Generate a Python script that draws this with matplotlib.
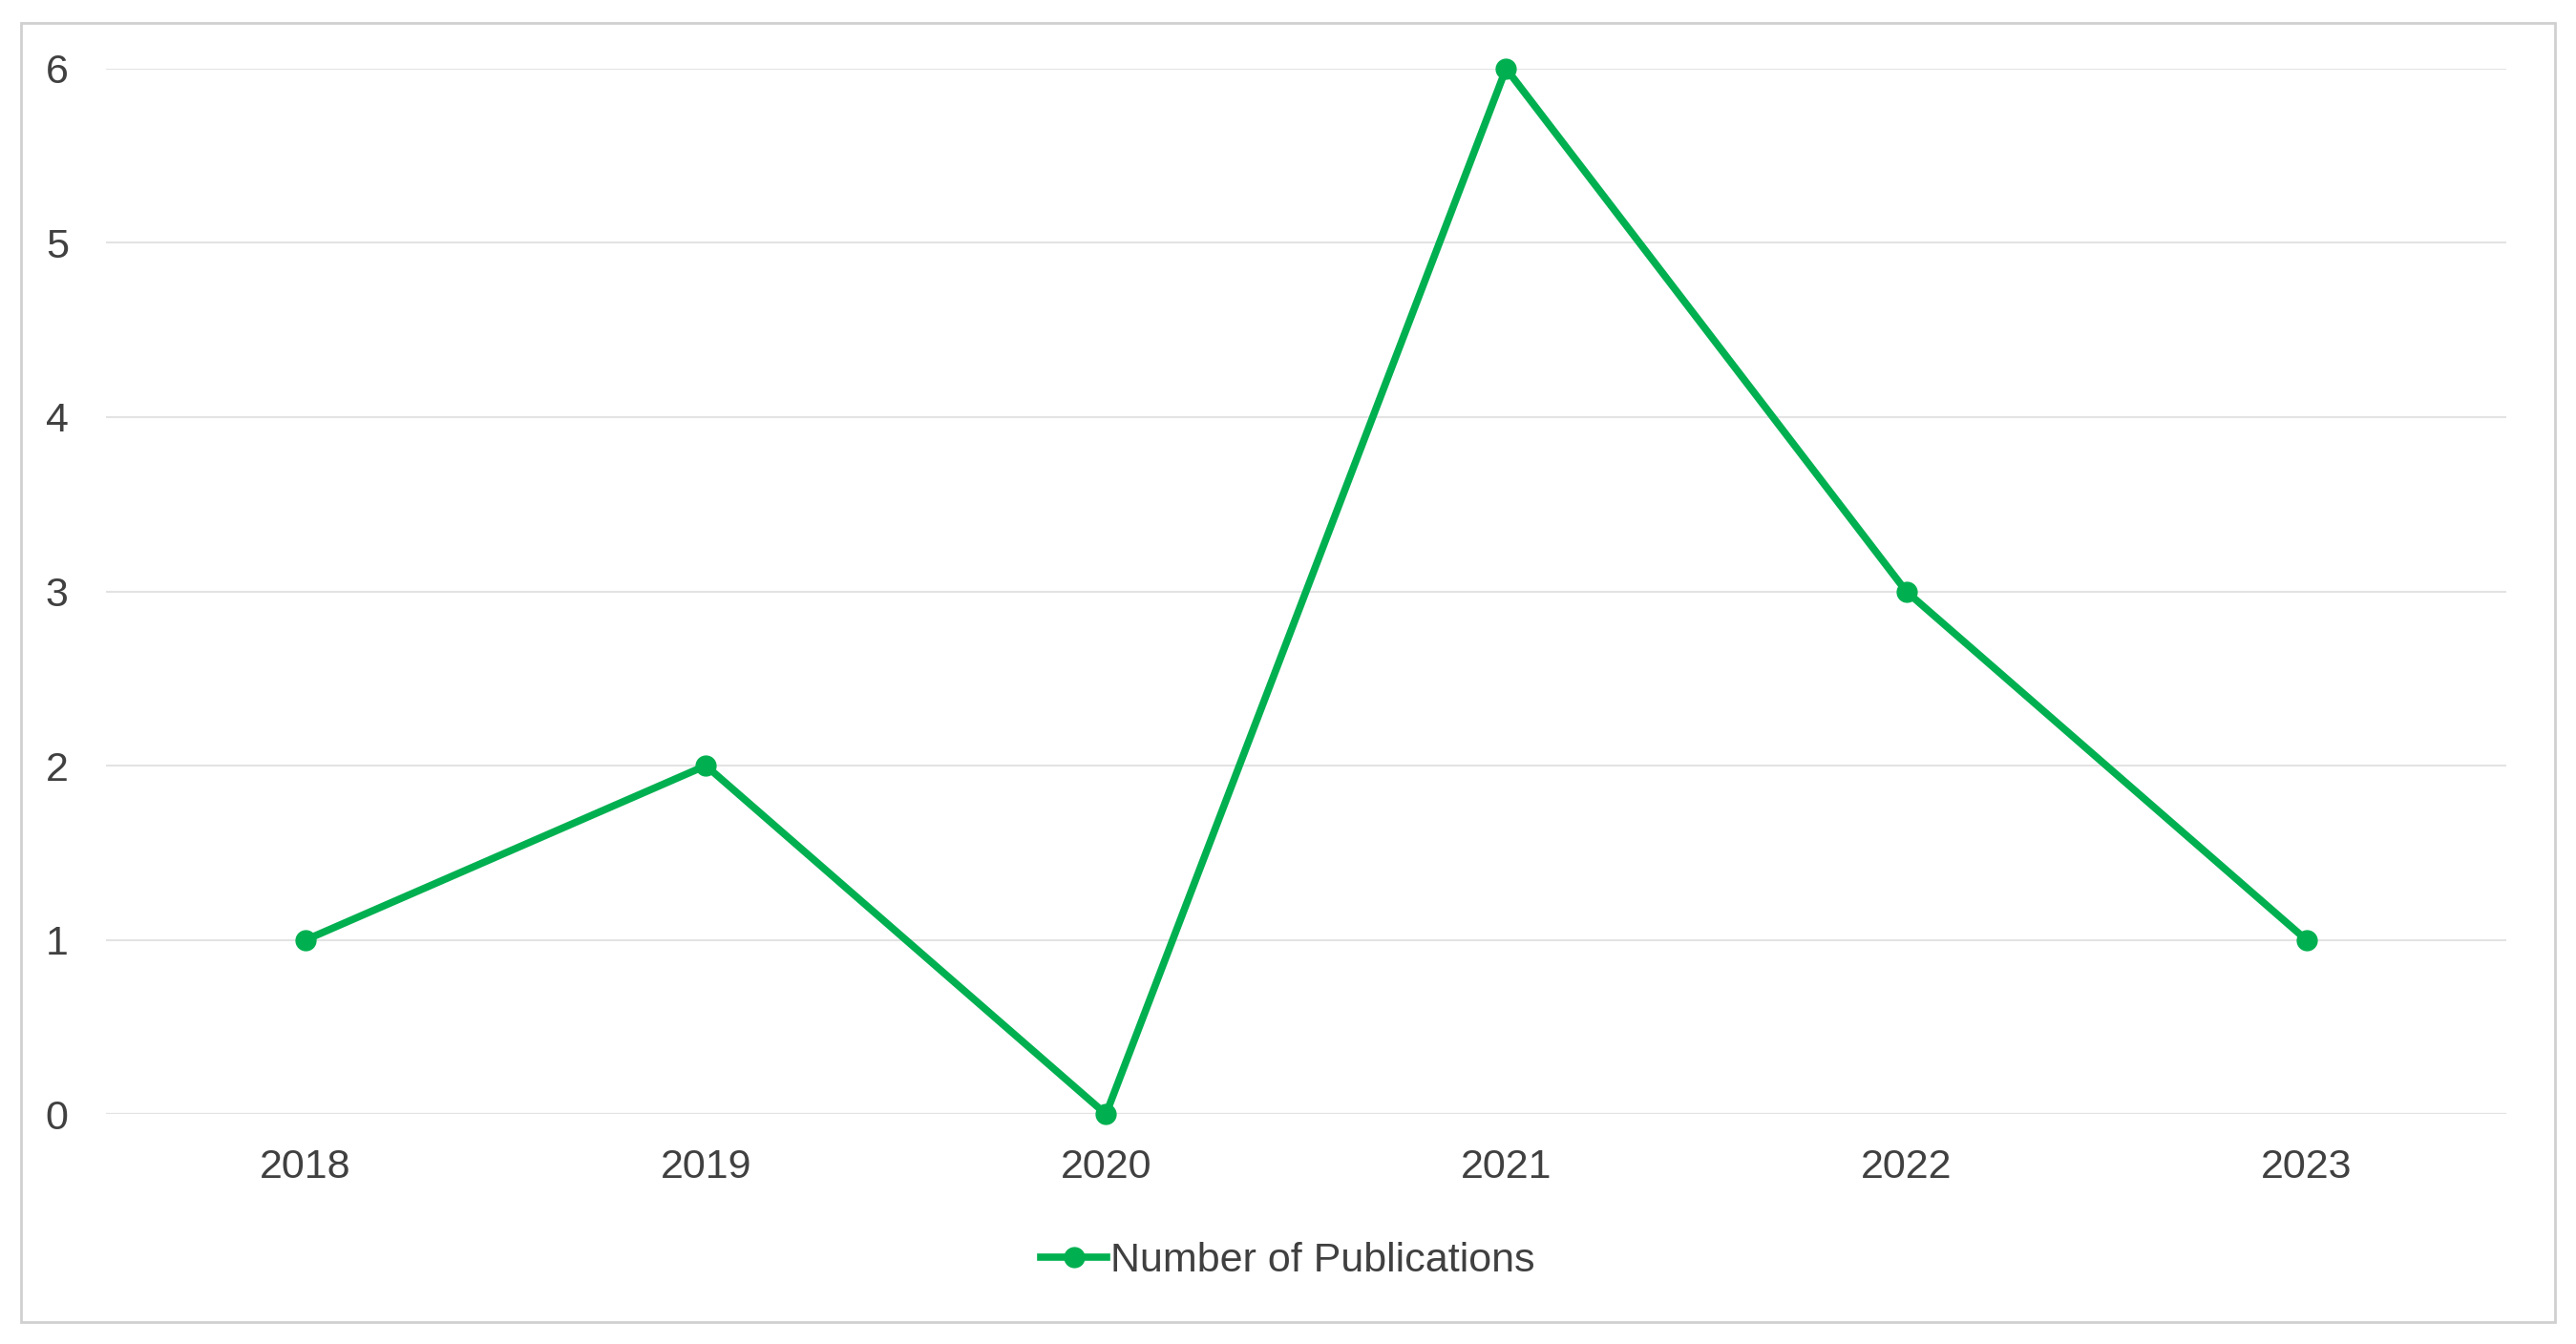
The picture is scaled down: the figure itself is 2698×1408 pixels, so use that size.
import matplotlib.pyplot as plt
from matplotlib.patches import Rectangle

years = ['2018', '2019', '2020', '2021', '2022', '2023']
publications = [1, 2, 0, 6, 3, 1]

green = '#00B050'
plt.rcParams['font.family'] = ['Liberation Sans', 'DejaVu Sans']

fig = plt.figure(figsize=(26.98, 14.08), dpi=100)
ax = fig.add_axes([0.041, 0.171, 0.932, 0.778])

x = range(len(years))
ax.plot(x, publications, color=green, linewidth=5.5, marker='o', markersize=15,
        label='Number of Publications', clip_on=False, zorder=3)

ax.set_xlim(-0.5, len(years) - 0.5)
ax.set_ylim(0, 6)
ax.set_xticks(list(x))
ax.set_xticklabels(years)
ax.set_yticks(range(7))
ax.grid(axis='y', color='#e3e3e3', linewidth=1.5)
ax.tick_params(axis='both', length=0, labelsize=31, colors='#404040', pad=26)
ax.tick_params(axis='y', pad=28)
for s in ax.spines.values():
    s.set_visible(False)
ax.axhline(0, color='#d9d9d9', linewidth=1.5, zorder=1)

fig.legend(loc='center', bbox_to_anchor=(0.5, 0.062), frameon=False, fontsize=31,
           handlelength=1.6, handletextpad=0.1, labelcolor='#404040')

fig.patches.append(Rectangle((0.008, 0.016), 0.984, 0.967, transform=fig.transFigure,
                             fill=False, edgecolor='#d0d0d0', linewidth=2))

fig.savefig('out.png', dpi=100)
